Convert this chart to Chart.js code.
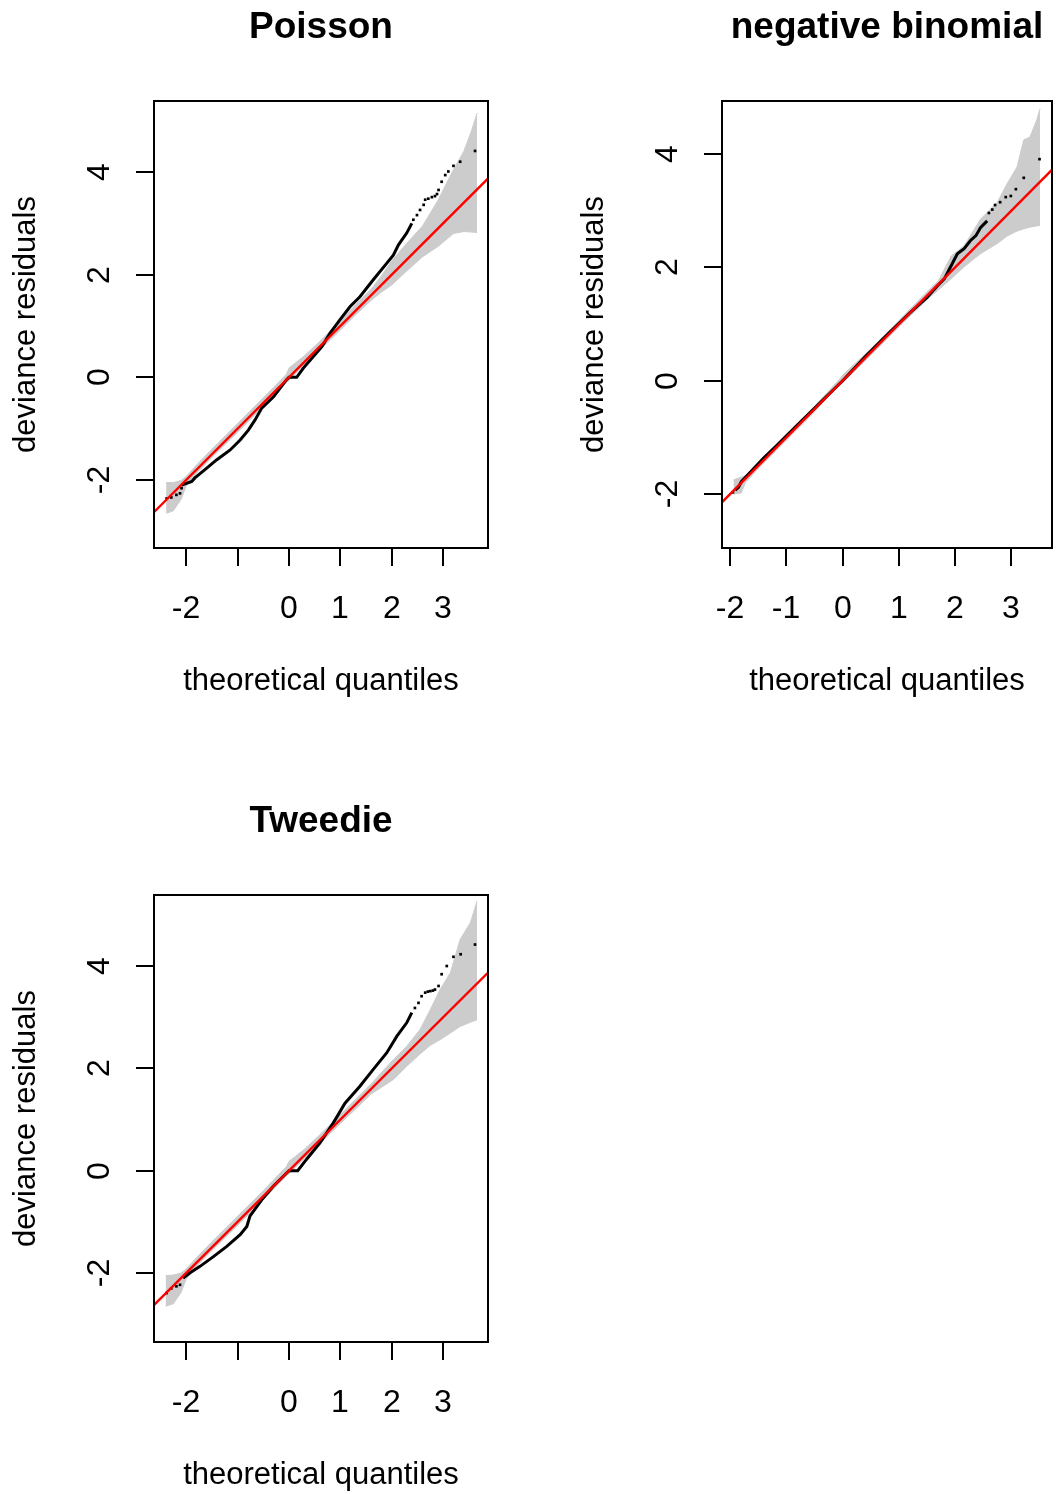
<!DOCTYPE html>
<html>
<head>
<meta charset="utf-8">
<title>QQ plots of deviance residuals</title>
<script src="https://cdn.jsdelivr.net/npm/chart.js@4/dist/chart.umd.min.js"></script>
<style>
  html, body { margin: 0; padding: 0; background: #ffffff; }
  #page { position: relative; width: 1056px; height: 1494px; }
  canvas { position: absolute; }
</style>
</head>
<body>
<div id="page">
  <canvas id="qq-poisson" width="528" height="747" style="left:0;top:0"></canvas>
  <canvas id="qq-negbin" width="528" height="747" style="left:528px;top:0"></canvas>
  <canvas id="qq-tweedie" width="528" height="747" style="left:0;top:747px"></canvas>
</div>
<script>
/* ------------------------------------------
   QQ plots: observed deviance residuals vs
   simulated reference band, three families
   ------------------------------------------ */

// shared axis ticks
const xTicks = [-2, -1, 0, 1, 2, 3];
const yTicks = [-2, 0, 2, 4];

// 1:1 reference line
const refX = [-4, 5];
const refY = [-4, 5];

// --- Poisson ---
const poisObsX = [-2.09, -1.89, -1.83, -1.60, -1.41, -1.15, -0.95, -0.79, -0.66, -0.53, -0.30, -0.05, 0.00, 0.15, 0.28, 0.47, 0.64, 0.80, 0.99, 1.19, 1.38, 1.64, 1.90, 2.03, 2.13, 2.29, 2.39];
const poisObsY = [-2.10, -2.03, -1.96, -1.77, -1.61, -1.42, -1.22, -1.03, -0.83, -0.60, -0.38, -0.05, 0.00, 0.00, 0.18, 0.40, 0.60, 0.86, 1.12, 1.38, 1.57, 1.90, 2.22, 2.38, 2.58, 2.81, 3.00];
const poisDotX = [-2.38, -2.29, -2.19, -2.12, -2.09, 2.42, 2.49, 2.55, 2.62, 2.65, 2.71, 2.78, 2.84, 2.88, 2.91, 2.97, 3.04, 3.10, 3.20, 3.33, 3.62];
const poisDotY = [-2.36, -2.34, -2.29, -2.26, -2.16, 3.07, 3.16, 3.26, 3.36, 3.46, 3.48, 3.51, 3.53, 3.57, 3.65, 3.81, 3.94, 4.01, 4.12, 4.20, 4.41];
const poisBandX  = [-2.39, -2.25, -2.10, -2.00, -1.80, -1.50, -1.00, -0.50, -0.05, 0.00, 0.30, 0.60, 1.00, 1.30, 1.60, 1.80, 2.00, 2.30, 2.60, 2.90, 3.20, 3.40, 3.55, 3.66];
const poisBandHi = [-2.05, -2.05, -2.01, -1.93, -1.71, -1.40, -0.90, -0.40, 0.06, 0.18, 0.42, 0.70, 1.10, 1.42, 1.72, 1.98, 2.27, 2.62, 2.95, 3.45, 4.05, 4.40, 4.80, 5.15];
const poisBandLo = [-2.65, -2.60, -2.38, -2.12, -1.87, -1.56, -1.07, -0.57, -0.10, -0.06, 0.24, 0.53, 0.92, 1.22, 1.50, 1.66, 1.80, 2.08, 2.35, 2.55, 2.80, 2.84, 2.83, 2.82];

// --- negative binomial ---
const nbObsX = [-1.91, -1.85, -1.80, -1.60, -1.40, -1.20, -0.80, -0.40, 0.00, 0.40, 0.80, 1.20, 1.50, 1.69, 1.81, 1.92, 2.04, 2.16, 2.27, 2.37, 2.45, 2.57];
const nbObsY = [-1.93, -1.88, -1.78, -1.57, -1.36, -1.17, -0.78, -0.39, 0.00, 0.42, 0.82, 1.20, 1.47, 1.68, 1.80, 2.01, 2.24, 2.33, 2.47, 2.56, 2.70, 2.82];
const nbDotX = [-1.95, 2.60, 2.66, 2.71, 2.80, 2.90, 2.99, 3.08, 3.22, 3.50];
const nbDotY = [-1.97, 2.96, 3.02, 3.10, 3.15, 3.24, 3.26, 3.38, 3.58, 3.91];
const nbBandX  = [-1.94, -1.80, -1.73, -1.50, -1.00, -0.50, -0.05, 0.00, 0.50, 1.00, 1.50, 1.70, 1.93, 2.16, 2.45, 2.75, 2.92, 3.10, 3.22, 3.33, 3.45, 3.51];
const nbBandHi = [-1.75, -1.70, -1.68, -1.45, -0.95, -0.45, 0.03, 0.10, 0.56, 1.06, 1.57, 1.76, 2.20, 2.38, 2.85, 3.15, 3.47, 3.77, 4.25, 4.30, 4.60, 4.80];
const nbBandLo = [-2.00, -1.98, -1.80, -1.55, -1.05, -0.55, -0.05, -0.04, 0.45, 0.95, 1.43, 1.60, 1.80, 2.01, 2.24, 2.42, 2.55, 2.64, 2.68, 2.71, 2.73, 2.74];

// --- Tweedie ---
const twObsX = [-2.06, -1.93, -1.73, -1.47, -1.21, -0.95, -0.82, -0.76, -0.53, -0.31, 0.00, 0.17, 0.34, 0.60, 0.86, 1.09, 1.38, 1.64, 1.90, 2.10, 2.29, 2.39];
const twObsY = [-2.10, -2.00, -1.87, -1.68, -1.48, -1.25, -1.09, -0.89, -0.57, -0.31, 0.00, 0.00, 0.22, 0.54, 0.93, 1.32, 1.65, 1.98, 2.30, 2.63, 2.89, 3.09];
const twDotX = [-2.38, -2.29, -2.19, -2.12, 2.45, 2.52, 2.58, 2.65, 2.70, 2.75, 2.80, 2.84, 2.91, 2.97, 3.07, 3.20, 3.34, 3.62];
const twDotY = [-2.39, -2.30, -2.26, -2.23, 3.18, 3.28, 3.41, 3.48, 3.50, 3.51, 3.52, 3.54, 3.61, 3.84, 4.00, 4.18, 4.23, 4.42];
const twBandX  = [-2.40, -2.25, -2.10, -2.00, -1.80, -1.50, -1.00, -0.50, -0.05, 0.00, 0.30, 0.60, 1.00, 1.30, 1.60, 2.03, 2.29, 2.55, 2.75, 2.94, 3.14, 3.33, 3.53, 3.66];
const twBandHi = [-2.05, -2.04, -2.00, -1.92, -1.70, -1.39, -0.89, -0.39, 0.08, 0.18, 0.42, 0.70, 1.10, 1.40, 1.70, 2.17, 2.43, 2.76, 3.15, 3.54, 3.87, 4.52, 4.85, 5.27];
const twBandLo = [-2.65, -2.60, -2.38, -2.12, -1.87, -1.56, -1.07, -0.57, -0.10, -0.06, 0.24, 0.53, 0.92, 1.21, 1.50, 1.78, 2.04, 2.28, 2.45, 2.56, 2.69, 2.82, 2.90, 2.95];

const FONT = '"Liberation Sans", Arial, Helvetica, sans-serif';

function toPoints(xs, ys) {
    return xs.map((x, i) => ({ x: x, y: ys[i] }));
}

// base-graphics style frame: box, outward ticks, rotated y labels
const rAxes = {
    id: 'rAxes',
    afterDraw(chart, args, opts) {
        const { ctx, chartArea: a, scales } = chart;
        const xs = scales.x, ys = scales.y;
        const tick = 18;
        ctx.save();
        ctx.strokeStyle = '#000000';
        ctx.fillStyle = '#000000';
        ctx.lineWidth = 2;
        ctx.strokeRect(a.left, a.top, a.right - a.left, a.bottom - a.top);

        // x axis ticks + labels
        ctx.font = '32px ' + FONT;
        ctx.textAlign = 'center';
        ctx.textBaseline = 'alphabetic';
        ctx.beginPath();
        xTicks.forEach((v, i) => {
            const px = Math.round(xs.getPixelForValue(v));
            ctx.moveTo(px, a.bottom);
            ctx.lineTo(px, a.bottom + tick);
            if (opts.xLabels[i]) ctx.fillText(opts.xLabels[i], px, a.bottom + 70);
        });
        ctx.stroke();

        // y axis ticks + labels (reading bottom to top)
        ctx.beginPath();
        yTicks.forEach(v => {
            const py = Math.round(ys.getPixelForValue(v));
            ctx.moveTo(a.left - tick, py);
            ctx.lineTo(a.left, py);
            ctx.save();
            ctx.translate(a.left - 45, py);
            ctx.rotate(-Math.PI / 2);
            ctx.fillText(String(v), 0, 0);
            ctx.restore();
        });
        ctx.stroke();

        // axis titles
        const cx = (a.left + a.right) / 2;
        const cy = (a.top + a.bottom) / 2;
        ctx.font = '31px ' + FONT;
        ctx.fillText('theoretical quantiles', cx, a.bottom + 142);
        ctx.save();
        ctx.translate(a.left - 119, cy);
        ctx.rotate(-Math.PI / 2);
        ctx.fillText('deviance residuals', 0, 0);
        ctx.restore();

        // main title
        ctx.font = 'bold 37px ' + FONT;
        ctx.fillText(opts.title, cx, a.top - 63);
        ctx.restore();
    }
};

function buildQQ(canvasId, cfg) {
    return new Chart(document.getElementById(canvasId), {
        type: 'line',
        data: {
            datasets: [
                // red 1:1 line on top
                { data: toPoints(refX, refY), borderColor: '#ff0000', borderWidth: 2.4, pointRadius: 0, order: 0 },
                // sparse observed points in the tails
                { data: toPoints(cfg.dotX, cfg.dotY), showLine: false, pointStyle: 'rect', pointRadius: 1.9,
                  backgroundColor: '#000000', borderWidth: 0, order: 1 },
                // dense observed residuals
                { data: toPoints(cfg.obsX, cfg.obsY), borderColor: '#000000', borderWidth: 3, pointRadius: 0, order: 2 },
                // simulated reference band (upper / lower envelope)
                { data: toPoints(cfg.bandX, cfg.bandHi), borderColor: '#cccccc', borderWidth: 1, pointRadius: 0, order: 3 },
                { data: toPoints(cfg.bandX, cfg.bandLo), borderColor: '#cccccc', borderWidth: 1, pointRadius: 0,
                  fill: '-1', backgroundColor: '#cccccc', order: 4 }
            ]
        },
        options: {
            responsive: false,
            animation: false,
            events: [],
            layout: { padding: cfg.padding },
            scales: {
                x: { type: 'linear', min: cfg.xRange[0], max: cfg.xRange[1], display: false },
                y: { type: 'linear', min: cfg.yRange[0], max: cfg.yRange[1], display: false }
            },
            plugins: {
                legend: { display: false },
                tooltip: { enabled: false },
                rAxes: { title: cfg.title, xLabels: cfg.xLabels }
            }
        },
        plugins: [rAxes]
    });
}

buildQQ('qq-poisson', {
    title: 'Poisson',
    xLabels: ['-2', '', '0', '1', '2', '3'],
    obsX: poisObsX, obsY: poisObsY, dotX: poisDotX, dotY: poisDotY,
    bandX: poisBandX, bandHi: poisBandHi, bandLo: poisBandLo,
    xRange: [-2.626, 3.872], yRange: [-3.325, 5.383],
    padding: { left: 154, top: 101, right: 40, bottom: 199 }
});

buildQQ('qq-negbin', {
    title: 'negative binomial',
    xLabels: ['-2', '-1', '0', '1', '2', '3'],
    obsX: nbObsX, obsY: nbObsY, dotX: nbDotX, dotY: nbDotY,
    bandX: nbBandX, bandHi: nbBandHi, bandLo: nbBandLo,
    xRange: [-2.144, 3.722], yRange: [-2.952, 4.936],
    padding: { left: 194, top: 101, right: 1, bottom: 199 }
});

buildQQ('qq-tweedie', {
    title: 'Tweedie',
    xLabels: ['-2', '', '0', '1', '2', '3'],
    obsX: twObsX, obsY: twObsY, dotX: twDotX, dotY: twDotY,
    bandX: twBandX, bandHi: twBandHi, bandLo: twBandLo,
    xRange: [-2.626, 3.872], yRange: [-3.348, 5.388],
    padding: { left: 154, top: 148, right: 40, bottom: 152 }
});
</script>
</body>
</html>
